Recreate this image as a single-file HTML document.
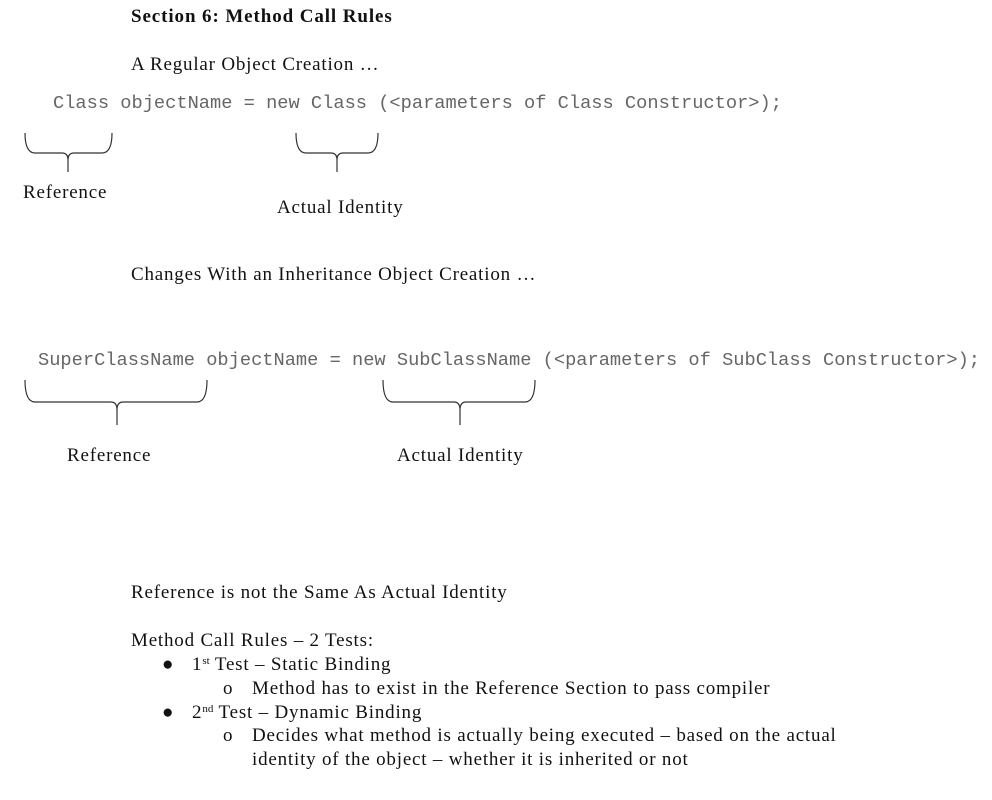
<!DOCTYPE html>
<html><head><meta charset="utf-8"><style>
body{margin:0;width:992px;height:800px;background:#fff;position:relative;font-family:"Liberation Serif",serif;color:#111;overflow:hidden}
.t{position:absolute;font-size:19px;letter-spacing:0.8px;white-space:nowrap;line-height:1}
.m{position:absolute;font-family:"Liberation Mono",monospace;font-size:18.7px;color:#666;white-space:pre;line-height:1}
sup{font-size:11px;vertical-align:6px;line-height:0;letter-spacing:0}
</style></head><body>
<div class="t" style="left:131px;top:7px;font-weight:bold;letter-spacing:0.9px">Section 6: Method Call Rules</div>
<div class="t" style="left:131px;top:55px">A Regular Object Creation …</div>
<div class="m" style="left:53px;top:94px">Class objectName = new Class (&lt;parameters of Class Constructor&gt;);</div>
<svg style="position:absolute;left:0;top:0" width="992" height="800" fill="none" stroke="#333" stroke-width="1.2">
<path d="M25 133 Q25 153 35 153 L62 153 Q68 153 68 160 L68 172 M68 160 Q68 153 74 153 L102 153 Q112 153 112 133"/>
<path d="M296 133 Q296 153 306 153 L331 153 Q337 153 337 160 L337 172 M337 160 Q337 153 343 153 L368 153 Q378 153 378 133"/>
<path d="M25 380 Q25 402 35 402 L111 402 Q117 402 117 410 L117 425 M117 410 Q117 402 123 402 L197 402 Q207 402 207 380"/>
<path d="M383 380 Q383 402 393 402 L454 402 Q460 402 460 410 L460 425 M460 410 Q460 402 466 402 L525 402 Q535 402 535 380"/>
</svg>
<div class="t" style="left:23px;top:183px">Reference</div>
<div class="t" style="left:277px;top:198px">Actual Identity</div>
<div class="t" style="left:131px;top:265px">Changes With an Inheritance Object Creation …</div>
<div class="m" style="left:38px;top:351px">SuperClassName objectName = new SubClassName (&lt;parameters of SubClass Constructor&gt;);</div>
<div class="t" style="left:67px;top:446px">Reference</div>
<div class="t" style="left:397px;top:446px">Actual Identity</div>
<div class="t" style="left:131px;top:583px">Reference is not the Same As Actual Identity</div>
<div class="t" style="left:131px;top:631px">Method Call Rules – 2 Tests:</div>
<div class="t" style="left:162px;top:655px">●</div>
<div class="t" style="left:192px;top:655px">1<sup>st</sup> Test – Static Binding</div>
<div class="t" style="left:223px;top:679px">o</div>
<div class="t" style="left:252px;top:679px">Method has to exist in the Reference Section to pass compiler</div>
<div class="t" style="left:162px;top:703px">●</div>
<div class="t" style="left:192px;top:703px">2<sup>nd</sup> Test – Dynamic Binding</div>
<div class="t" style="left:223px;top:726px">o</div>
<div class="t" style="left:252px;top:726px">Decides what method is actually being executed – based on the actual</div>
<div class="t" style="left:252px;top:750px">identity of the object – whether it is inherited or not</div>
</body></html>
